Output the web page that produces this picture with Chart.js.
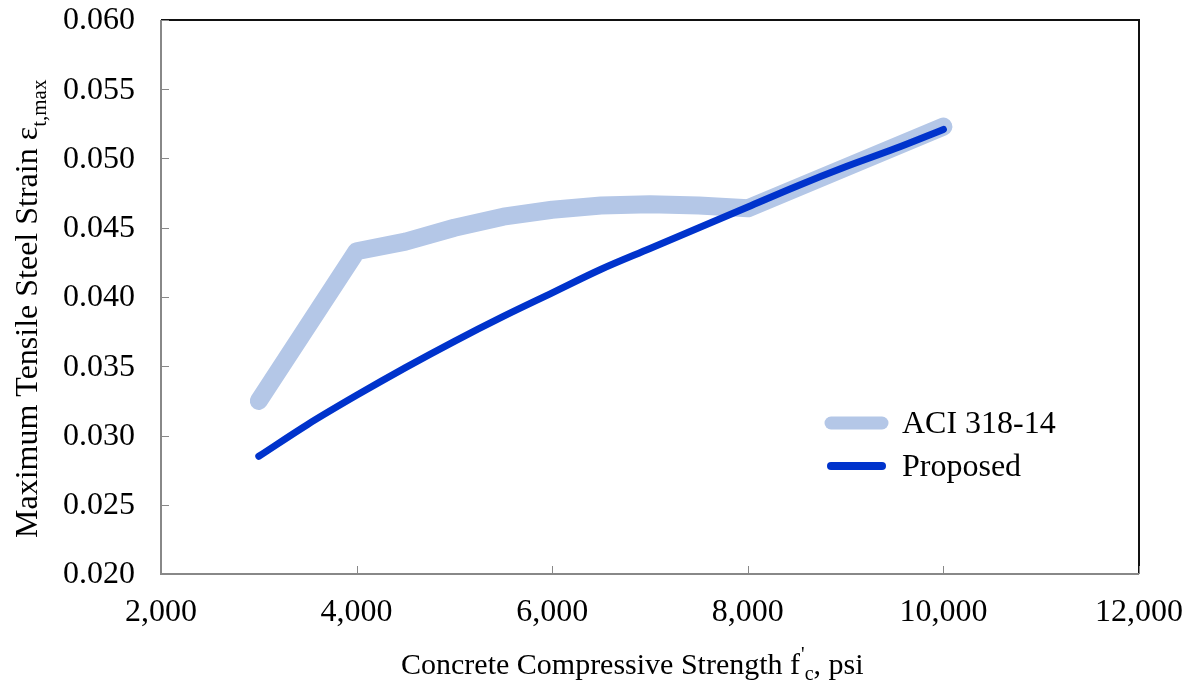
<!DOCTYPE html>
<html>
<head>
<meta charset="utf-8">
<script src="https://cdn.jsdelivr.net/npm/chart.js@4"></script>
<style>
  html, body { margin: 0; padding: 0; background: #fff; }
  #wrap { width: 1192px; height: 683px; }
</style>
</head>
<body>
<div id="wrap"><canvas id="c" width="1192" height="683"></canvas></div>
<script>
// concrete strength f'c (psi) and max tensile strain
const aciStrength = [3000, 4000, 4500, 5000, 5500, 6000, 6500, 7000, 7500, 8000, 10000];
const aciStrain = [0.0325, 0.0433, 0.0440, 0.0450, 0.0458, 0.0463, 0.0466, 0.0467, 0.0466, 0.0464, 0.0523];

const proposedStrength = [3000, 3500, 4000, 4500, 5000, 5500, 6000, 6500, 7000, 7500, 8000, 8500, 9000, 9500, 10000];
const proposedStrain = [0.0285, 0.0308, 0.0329, 0.0349, 0.0368, 0.0386, 0.0403, 0.0420, 0.0435, 0.0450, 0.0465, 0.0480, 0.0494, 0.0507, 0.0521];

const seriesLabels = ["ACI 318-14", "Proposed"];
const xTicks = [2000, 4000, 6000, 8000, 10000, 12000];
const yTicks = [0.020, 0.025, 0.030, 0.035, 0.040, 0.045, 0.050, 0.055, 0.060];

const FONT = "'Liberation Serif', 'Times New Roman', serif";
const aciColor = "#b4c7e7";
const propColor = "#0033cc";

const toPoints = (xs, ys) => xs.map((x, i) => ({ x: x, y: ys[i] }));
const fmtX = v => v.toLocaleString("en-US");
const fmtY = v => v.toFixed(3);

// frame, inside tick marks, tick labels, axis titles and legend
const decorations = {
  id: "decorations",
  beforeDatasetsDraw(chart) {
    const { ctx, chartArea: a, scales } = chart;
    ctx.save();
    ctx.lineWidth = 2;
    ctx.strokeStyle = "#111";
    ctx.beginPath();
    ctx.moveTo(a.left, a.top);
    ctx.lineTo(a.right, a.top);
    ctx.lineTo(a.right, a.bottom);
    ctx.stroke();
    ctx.strokeStyle = "#888";
    ctx.beginPath();
    ctx.moveTo(a.left, a.top);
    ctx.lineTo(a.left, a.bottom);
    ctx.lineTo(a.right, a.bottom);
    ctx.stroke();
    ctx.lineWidth = 1;
    yTicks.forEach(v => {
      const y = Math.round(scales.y.getPixelForValue(v)) + 0.5;
      ctx.beginPath();
      ctx.moveTo(a.left, y);
      ctx.lineTo(a.left + 8, y);
      ctx.stroke();
    });
    xTicks.forEach(v => {
      const x = Math.round(scales.x.getPixelForValue(v)) + 0.5;
      ctx.beginPath();
      ctx.moveTo(x, a.bottom);
      ctx.lineTo(x, a.bottom - 8);
      ctx.stroke();
    });

    // tick labels
    ctx.fillStyle = "#000";
    ctx.font = "32px " + FONT;
    ctx.textBaseline = "middle";
    ctx.textAlign = "right";
    yTicks.forEach(v => ctx.fillText(fmtY(v), a.left - 26, scales.y.getPixelForValue(v) + 1));
    ctx.textAlign = "center";
    xTicks.forEach(v => ctx.fillText(fmtX(v), scales.x.getPixelForValue(v), a.bottom + 39));
    ctx.restore();
  },
  afterDraw(chart) {
    const { ctx } = chart;
    ctx.save();
    ctx.fillStyle = "#000";
    ctx.textBaseline = "alphabetic";

    // x title
    let x = 401, y = 674;
    const big = "30px " + FONT, small = "20px " + FONT;
    ctx.font = big;
    ctx.fillText("Concrete Compressive Strength f", x, y);
    x += ctx.measureText("Concrete Compressive Strength f").width + 1;
    ctx.font = small;
    ctx.fillText("'", x, y - 13);
    x += ctx.measureText("'").width;
    ctx.fillText("c", x, y + 6);
    x += ctx.measureText("c").width;
    ctx.font = big;
    ctx.fillText(", psi", x, y);

    // y title, rotated
    ctx.translate(37, 538);
    ctx.rotate(-Math.PI / 2);
    let t = 0;
    ctx.font = "32px " + FONT;
    ctx.fillText("Maximum Tensile Steel Strain \u03b5", t, 0);
    t += ctx.measureText("Maximum Tensile Steel Strain \u03b5").width;
    ctx.font = "21px " + FONT;
    ctx.fillText("t,max", t, 9);
    ctx.restore();

    // legend
    const legend = [
      { label: seriesLabels[0], color: aciColor, width: 13, y: 423 },
      { label: seriesLabels[1], color: propColor, width: 8, y: 466 }
    ];
    ctx.save();
    ctx.lineCap = "round";
    legend.forEach(item => {
      ctx.strokeStyle = item.color;
      ctx.lineWidth = item.width;
      ctx.beginPath();
      ctx.moveTo(831, item.y);
      ctx.lineTo(882, item.y);
      ctx.stroke();
      ctx.fillStyle = "#000";
      ctx.font = "32px " + FONT;
      ctx.textBaseline = "middle";
      ctx.fillText(item.label, 902, item.y + 2);
    });
    ctx.restore();
  }
};

new Chart(document.getElementById("c"), {
  type: "line",
  data: {
    datasets: [
      {
        label: seriesLabels[0],
        data: toPoints(aciStrength, aciStrain),
        borderColor: aciColor,
        borderWidth: 18,
        borderCapStyle: "round",
        borderJoinStyle: "round",
        pointRadius: 0,
        tension: 0,
        order: 2
      },
      {
        label: seriesLabels[1],
        data: toPoints(proposedStrength, proposedStrain),
        borderColor: propColor,
        borderWidth: 7,
        borderCapStyle: "round",
        borderJoinStyle: "round",
        pointRadius: 0,
        cubicInterpolationMode: "monotone",
        order: 1
      }
    ]
  },
  options: {
    responsive: false,
    animation: false,
    layout: { padding: { top: 20, right: 53, left: 0, bottom: 0 } },
    plugins: { legend: { display: false }, tooltip: { enabled: false } },
    scales: {
      x: {
        type: "linear",
        min: 2000,
        max: 12000,
        afterBuildTicks: s => { s.ticks = xTicks.map(v => ({ value: v })); },
        afterFit: s => { s.height = 109; },
        grid: { display: false, drawTicks: false },
        border: { display: false },
        ticks: { display: false }
      },
      y: {
        type: "linear",
        min: 0.02,
        max: 0.06,
        afterBuildTicks: s => { s.ticks = yTicks.map(v => ({ value: v })); },
        afterFit: s => { s.width = 161; },
        grid: { display: false, drawTicks: false },
        border: { display: false },
        ticks: { display: false }
      }
    }
  },
  plugins: [decorations]
});
</script>
</body>
</html>
